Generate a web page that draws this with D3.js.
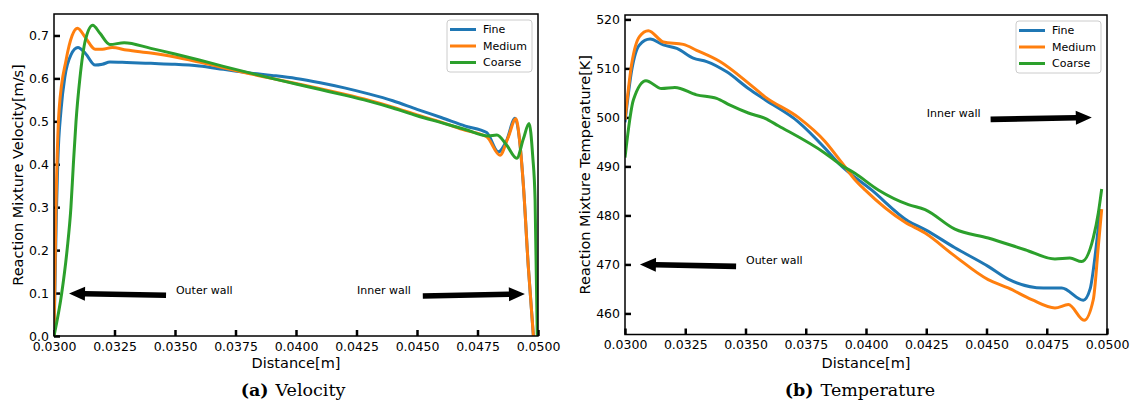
<!DOCTYPE html>
<html>
<head>
<meta charset="utf-8">
<script src="https://cdn.jsdelivr.net/npm/d3@7"></script>
<style>
  body { margin: 0; background: #fff; }
  svg text { font-family: "DejaVu Sans", sans-serif; fill: #000; }
</style>
</head>
<body>
<div id="chart"></div>
<script>
// series names + colours
const seriesNames = ['Fine', 'Medium', 'Coarse']
const seriesColors = ['#1f77b4', '#ff7f0e', '#2ca02c']

// velocity [distance m, velocity m/s]
const velFine = [
    [0.03000, 0.000], [0.03010, 0.290], [0.03016, 0.410], [0.03029, 0.526], [0.03045, 0.604],
    [0.03070, 0.655], [0.03099, 0.672], [0.03130, 0.658], [0.03170, 0.631], [0.03200, 0.633],
    [0.03231, 0.638], [0.03300, 0.637], [0.03400, 0.635], [0.03500, 0.633], [0.03600, 0.629],
    [0.03700, 0.621], [0.03800, 0.613], [0.03900, 0.607], [0.04000, 0.600], [0.04100, 0.590],
    [0.04200, 0.578], [0.04300, 0.564], [0.04400, 0.548], [0.04500, 0.528], [0.04600, 0.509],
    [0.04700, 0.489], [0.04788, 0.474], [0.04836, 0.429], [0.04870, 0.455], [0.04905, 0.507],
    [0.04925, 0.450], [0.04939, 0.356], [0.04960, 0.161], [0.04981, 0.000]
]
const velMedium = [
    [0.03000, 0.000], [0.03008, 0.293], [0.03021, 0.526], [0.03050, 0.643], [0.03075, 0.700],
    [0.03097, 0.717], [0.03130, 0.695], [0.03170, 0.668], [0.03200, 0.668], [0.03240, 0.672],
    [0.03300, 0.666], [0.03400, 0.659], [0.03500, 0.650], [0.03600, 0.638], [0.03700, 0.625],
    [0.03800, 0.612], [0.03900, 0.600], [0.04000, 0.588], [0.04100, 0.576], [0.04200, 0.563],
    [0.04300, 0.549], [0.04400, 0.533], [0.04500, 0.515], [0.04600, 0.498], [0.04700, 0.479],
    [0.04788, 0.464], [0.04843, 0.421], [0.04875, 0.460], [0.04909, 0.506], [0.04925, 0.450],
    [0.04939, 0.356], [0.04960, 0.161], [0.04981, 0.000]
]
const velCoarse = [
    [0.03000, 0.000], [0.03032, 0.100], [0.03054, 0.200], [0.03070, 0.300], [0.03080, 0.400],
    [0.03091, 0.500], [0.03107, 0.600], [0.03130, 0.690], [0.03160, 0.724], [0.03190, 0.705],
    [0.03231, 0.679], [0.03290, 0.683], [0.03400, 0.670], [0.03500, 0.657], [0.03600, 0.643],
    [0.03700, 0.628], [0.03800, 0.614], [0.03900, 0.600], [0.04000, 0.587], [0.04100, 0.574],
    [0.04200, 0.561], [0.04300, 0.547], [0.04400, 0.531], [0.04500, 0.513], [0.04600, 0.497],
    [0.04700, 0.481], [0.04795, 0.466], [0.04830, 0.468], [0.04870, 0.445], [0.04912, 0.414],
    [0.04940, 0.460], [0.04963, 0.495], [0.04978, 0.420], [0.04988, 0.317], [0.04997, 0.000]
]

// temperature [distance m, T K]
const tempFine = [
    [0.03000, 499.0], [0.03028, 509.7], [0.03060, 514.8], [0.03104, 516.0], [0.03159, 514.8],
    [0.03215, 514.1], [0.03283, 512.1], [0.03339, 511.4], [0.03422, 509.3], [0.03512, 505.9],
    [0.03581, 503.6], [0.03719, 499.1], [0.03830, 493.7], [0.03885, 490.7], [0.04023, 485.2],
    [0.04176, 478.8], [0.04245, 477.1], [0.04369, 473.4], [0.04507, 469.6], [0.04590, 467.0],
    [0.04736, 465.2], [0.04812, 465.2], [0.04902, 462.7], [0.04930, 465.0], [0.04950, 471.5],
    [0.04965, 478.0], [0.04972, 481.3]
]
const tempMedium = [
    [0.03000, 499.5], [0.03028, 511.0], [0.03060, 516.5], [0.03097, 517.7], [0.03159, 515.4],
    [0.03242, 514.9], [0.03297, 513.7], [0.03394, 511.4], [0.03512, 507.0], [0.03581, 504.2],
    [0.03719, 500.0], [0.03830, 495.1], [0.03899, 490.8], [0.03954, 487.3], [0.03996, 485.2],
    [0.04162, 478.6], [0.04245, 476.4], [0.04369, 471.7], [0.04507, 466.9], [0.04590, 465.2],
    [0.04688, 462.8], [0.04784, 461.1], [0.04840, 461.8], [0.04905, 458.6], [0.04943, 462.8],
    [0.04964, 473.7], [0.04978, 481.3]
]
const tempCoarse = [
    [0.03000, 491.8], [0.03035, 503.6], [0.03087, 507.5], [0.03152, 505.9], [0.03207, 506.1],
    [0.03297, 504.6], [0.03380, 503.9], [0.03436, 502.5], [0.03512, 500.9], [0.03581, 499.8],
    [0.03636, 498.3], [0.03830, 492.7], [0.03899, 490.2], [0.03954, 488.6], [0.04051, 485.2],
    [0.04176, 482.2], [0.04245, 481.2], [0.04369, 477.2], [0.04507, 475.4], [0.04660, 473.0],
    [0.04784, 471.1], [0.04846, 471.3], [0.04895, 470.6], [0.04943, 475.4], [0.04964, 480.5],
    [0.04978, 485.4]
]

// tick values
const xTicks = [0.0300, 0.0325, 0.0350, 0.0375, 0.0400, 0.0425, 0.0450, 0.0475, 0.0500]
const velTicks = [0.0, 0.1, 0.2, 0.3, 0.4, 0.5, 0.6, 0.7]
const tempTicks = [460, 470, 480, 490, 500, 510, 520]

// annotations: text anchor + arrow tail -> head, in data units
const velNotes = [
    { text: 'Outer wall', at: [0.03504, 0.107], from: [0.03463, 0.095], to: [0.03062, 0.099] },
    { text: 'Inner wall', at: [0.04252, 0.107], from: [0.04524, 0.093], to: [0.04946, 0.098] }
]
const tempNotes = [
    { text: 'Outer wall', at: [0.03502, 470.8], from: [0.03461, 469.6], to: [0.03062, 470.0] },
    { text: 'Inner wall', at: [0.04252, 500.9], from: [0.04517, 499.6], to: [0.04937, 500.0] }
]

const svg = d3.select('#chart').append('svg')
    .attr('width', 1131)
    .attr('height', 402)

function drawPanel(cfg) {
    const g = svg.append('g')

    const x = d3.scaleLinear().domain([0.03, 0.05]).range([cfg.left, cfg.right])
    const y = d3.scaleLinear().domain(cfg.yDomain).range([cfg.bottom, cfg.top])

    // clip for the lines
    g.append('clipPath').attr('id', cfg.id + '-clip')
        .append('rect')
        .attr('x', cfg.left).attr('y', cfg.top)
        .attr('width', cfg.right - cfg.left).attr('height', cfg.bottom - cfg.top)

    // axes with inward ticks
    const xAxis = g.append('g')
        .attr('transform', `translate(0, ${cfg.bottom})`)
        .call(d3.axisBottom(x).tickValues(xTicks).tickFormat(d3.format('.4f'))
            .tickSizeInner(-6).tickSizeOuter(0).tickPadding(6))
    const yAxis = g.append('g')
        .attr('transform', `translate(${cfg.left}, 0)`)
        .call(d3.axisLeft(y).tickValues(cfg.yTicks).tickFormat(cfg.yFormat)
            .tickSizeInner(-6).tickSizeOuter(0).tickPadding(5))

    g.selectAll('.domain').remove()
    g.selectAll('.tick line').attr('stroke', '#000').attr('stroke-width', 2.5)
    g.selectAll('.tick text')
        .style('font-family', '"DejaVu Sans", sans-serif')
        .style('font-size', '12.5px')
        .attr('fill', '#000')

    // lines
    const line = d3.line()
        .x(d => x(d[0]))
        .y(d => y(d[1]))
        .curve(d3.curveMonotoneX)

    const lines = g.append('g').attr('clip-path', `url(#${cfg.id}-clip)`)
    cfg.series.forEach((s, i) => {
        lines.append('path')
            .datum(s)
            .attr('fill', 'none')
            .attr('stroke', seriesColors[i])
            .attr('stroke-width', 3)
            .attr('stroke-linejoin', 'round')
            .attr('d', line)
    })

    // frame
    g.append('rect')
        .attr('x', cfg.left).attr('y', cfg.top)
        .attr('width', cfg.right - cfg.left).attr('height', cfg.bottom - cfg.top)
        .attr('fill', 'none')
        .attr('stroke', '#000')
        .attr('stroke-width', 1.5)

    // annotations + arrows
    cfg.notes.forEach(n => {
        g.append('text')
            .attr('x', x(n.at[0]))
            .attr('y', y(n.at[1]))
            .attr('dy', '0.35em')
            .style('font-size', '11px')
            .text(n.text)

        const x0 = x(n.from[0]), y0 = y(n.from[1])
        const x1 = x(n.to[0]), y1 = y(n.to[1])
        const len = Math.hypot(x1 - x0, y1 - y0)
        const ux = (x1 - x0) / len, uy = (y1 - y0) / len
        const px = -uy, py = ux
        const sw = 2.8, hw = 7, hl = 16
        const bx = x1 - ux * hl, by = y1 - uy * hl
        const pts = [
            [x0 + px * sw, y0 + py * sw],
            [bx + px * sw, by + py * sw],
            [bx + px * hw, by + py * hw],
            [x1, y1],
            [bx - px * hw, by - py * hw],
            [bx - px * sw, by - py * sw],
            [x0 - px * sw, y0 - py * sw]
        ]
        g.append('polygon')
            .attr('points', pts.map(p => p.join(',')).join(' '))
            .attr('fill', '#000')
    })

    // legend
    const lw = 85, lh = 52
    const lx = cfg.right - 6 - lw, ly = cfg.top + 6
    const legend = g.append('g').attr('transform', `translate(${lx}, ${ly})`)
    legend.append('rect')
        .attr('width', lw).attr('height', lh)
        .attr('rx', 3)
        .attr('fill', '#fff').attr('fill-opacity', 0.8)
        .attr('stroke', '#cccccc').attr('stroke-width', 1)
    seriesNames.forEach((name, i) => {
        const ry = 9.5 + i * 16.5
        legend.append('line')
            .attr('x1', 3).attr('x2', 29)
            .attr('y1', ry).attr('y2', ry)
            .attr('stroke', seriesColors[i])
            .attr('stroke-width', 3)
        legend.append('text')
            .attr('x', 36).attr('y', ry)
            .attr('dy', '0.35em')
            .style('font-size', '11px')
            .text(name)
    })

    // axis labels
    const cx = (cfg.left + cfg.right) / 2
    g.append('text')
        .attr('x', cx).attr('y', 368)
        .attr('text-anchor', 'middle')
        .style('font-size', '14.5px')
        .text('Distance[m]')

    g.append('text')
        .attr('transform', `translate(${cfg.yLabelX}, ${(cfg.top + cfg.bottom) / 2}) rotate(-90)`)
        .attr('text-anchor', 'middle')
        .attr('dy', '0.35em')
        .style('font-size', '14.5px')
        .text(cfg.yLabel)

    // sub caption
    const cap = g.append('text')
        .attr('x', cfg.capX).attr('y', 396)
        .attr('text-anchor', 'middle')
        .style('font-family', '"DejaVu Serif", serif')
        .style('font-size', '17.5px')
    cap.append('tspan').style('font-weight', 'bold').text(cfg.capTag)
    cap.append('tspan').attr('dx', 7).text(cfg.capText)
}

drawPanel({
    id: 'vel',
    left: 54, right: 538, top: 14, bottom: 336,
    yDomain: [0, 0.75],
    yTicks: velTicks,
    yFormat: d3.format('.1f'),
    yLabel: 'Reaction Mixture Velocity[m/s]',
    yLabelX: 18,
    series: [velFine, velMedium, velCoarse],
    notes: velNotes,
    capX: 293, capTag: '(a)', capText: 'Velocity'
})

drawPanel({
    id: 'temp',
    left: 625, right: 1107, top: 15, bottom: 334.5,
    yDomain: [455.7, 520.9],
    yTicks: tempTicks,
    yFormat: d3.format('d'),
    yLabel: 'Reaction Mixture Temperature[K]',
    yLabelX: 585,
    series: [tempFine, tempMedium, tempCoarse],
    notes: tempNotes,
    capX: 860, capTag: '(b)', capText: 'Temperature'
})
</script>
</body>
</html>
